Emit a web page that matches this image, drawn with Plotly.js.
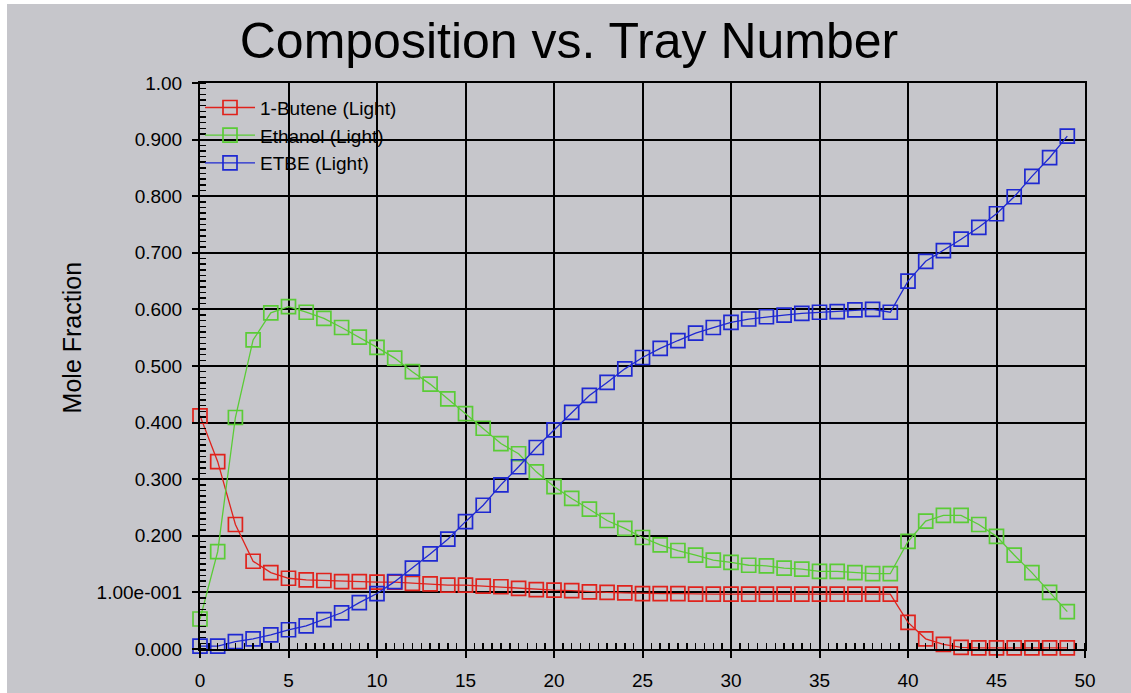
<!DOCTYPE html>
<html>
<head>
<meta charset="utf-8">
<script src="https://cdn.plot.ly/plotly-3.0.1.min.js"></script>
<style>
  html, body { margin: 0; padding: 0; background: #ffffff; width: 1131px; height: 693px; overflow: hidden; }
  #chart { position: absolute; left: 7px; top: 4px; width: 1124px; height: 689px; }
</style>
</head>
<body>
<div id="chart"></div>
<script>
// Tray numbers 0..49
const trays = [0,1,2,3,4,5,6,7,8,9,10,11,12,13,14,15,16,17,18,19,20,21,22,23,24,
               25,26,27,28,29,30,31,32,33,34,35,36,37,38,39,40,41,42,43,44,45,46,47,48,49];

// Liquid mole fractions per tray
const butene = [0.412,0.331,0.220,0.155,0.135,0.125,0.122,0.121,0.119,0.119,
                0.118,0.118,0.116,0.115,0.113,0.113,0.111,0.110,0.107,0.105,
                0.104,0.103,0.101,0.100,0.099,0.098,0.098,0.098,0.097,0.097,
                0.097,0.097,0.097,0.097,0.097,0.097,0.097,0.097,0.097,0.097,
                0.047,0.018,0.008,0.003,0.002,0.002,0.002,0.002,0.002,0.002];

const ethanol = [0.053,0.172,0.409,0.546,0.594,0.605,0.595,0.584,0.568,0.551,
                 0.533,0.514,0.490,0.468,0.442,0.416,0.390,0.363,0.345,0.313,
                 0.287,0.266,0.247,0.227,0.213,0.197,0.184,0.174,0.166,0.157,
                 0.153,0.148,0.147,0.143,0.141,0.137,0.137,0.135,0.133,0.133,
                 0.190,0.226,0.236,0.236,0.220,0.199,0.166,0.135,0.100,0.066];

const etbe = [0.005,0.005,0.013,0.018,0.025,0.034,0.041,0.052,0.064,0.082,
              0.098,0.119,0.143,0.168,0.194,0.225,0.254,0.290,0.322,0.356,
              0.387,0.418,0.448,0.471,0.495,0.515,0.531,0.545,0.558,0.568,
              0.577,0.583,0.587,0.590,0.593,0.595,0.596,0.599,0.600,0.595,
              0.650,0.685,0.704,0.724,0.745,0.769,0.799,0.835,0.868,0.906];

const seriesNames = ['1-Butene (Light)', 'Ethanol (Light)', 'ETBE (Light)'];
const seriesColors = ['#e0221c', '#5acc36', '#1e28d2'];

// Y axis tick positions and their printed labels
const yTickVals = [0, 0.1, 0.2, 0.3, 0.4, 0.5, 0.6, 0.7, 0.8, 0.9, 1.0];
const yTickText = ['0.000', '1.00e-001', '0.200', '0.300', '0.400', '0.500',
                   '0.600', '0.700', '0.800', '0.900', '1.00'];
const xTickVals = [0, 5, 10, 15, 20, 25, 30, 35, 40, 45, 50];

const values = [butene, ethanol, etbe];
const traces = values.map((ys, i) => ({
  x: trays,
  y: ys,
  name: seriesNames[i],
  type: 'scatter',
  mode: 'lines+markers',
  line: { color: seriesColors[i], width: 1.3 },
  marker: { symbol: 'square-open', size: 14, color: seriesColors[i], line: { width: 1.7, color: seriesColors[i] } },
  cliponaxis: false
}));

const fontFamily = 'Liberation Sans, Arial, sans-serif';

const layout = {
  width: 1124,
  height: 689,
  paper_bgcolor: '#c6c6cb',
  plot_bgcolor: '#c6c6cb',
  margin: { l: 193, r: 46, t: 79, b: 44 },
  showlegend: true,
  title: {
    text: 'Composition vs. Tray Number',
    font: { family: fontFamily, size: 50, color: '#000000' },
    x: 0.5, xanchor: 'center', xref: 'container',
    y: 1 - 36 / 689, yanchor: 'middle', yref: 'container'
  },
  legend: {
    x: 0.0, y: 0.99, xanchor: 'left', yanchor: 'top',
    bgcolor: 'rgba(0,0,0,0)', borderwidth: 0,
    font: { family: fontFamily, size: 19, color: '#000000' },
    itemwidth: 50, tracegroupgap: 0
  },
  // vertical axis caption, set a little above the axis middle
  annotations: [{
    text: 'Mole Fraction',
    xref: 'paper', yref: 'paper',
    x: -0.145, y: 0.55,
    xanchor: 'center', yanchor: 'middle',
    textangle: -90, showarrow: false,
    font: { family: fontFamily, size: 25, color: '#000000' }
  }],
  xaxis: {
    range: [0, 50],
    tickmode: 'array', tickvals: xTickVals,
    ticks: 'outside', ticklen: 7, tickwidth: 2, tickcolor: '#000000',
    ticklabelstandoff: 6,
    tickfont: { family: fontFamily, size: 19, color: '#000000' },
    showgrid: true, gridcolor: '#000000', gridwidth: 2,
    showline: true, linecolor: '#000000', linewidth: 2, mirror: true,
    zeroline: false,
    minor: { dtick: 0.5, ticks: 'inside', ticklen: 6, tickwidth: 1.5, tickcolor: '#000000', showgrid: false },
    fixedrange: true
  },
  yaxis: {
    range: [0, 1],
    tickmode: 'array', tickvals: yTickVals, ticktext: yTickText,
    ticks: 'outside', ticklen: 6, tickwidth: 2, tickcolor: '#000000',
    ticklabelstandoff: 6,
    tickfont: { family: fontFamily, size: 19, color: '#000000' },
    showgrid: true, gridcolor: '#000000', gridwidth: 2,
    showline: true, linecolor: '#000000', linewidth: 2, mirror: true,
    zeroline: false,
    minor: { dtick: 0.01, ticks: 'inside', ticklen: 6, tickwidth: 1.5, tickcolor: '#000000', showgrid: false },
    fixedrange: true
  }
};

Plotly.newPlot('chart', traces, layout, { displayModeBar: false, staticPlot: true });
</script>
</body>
</html>
